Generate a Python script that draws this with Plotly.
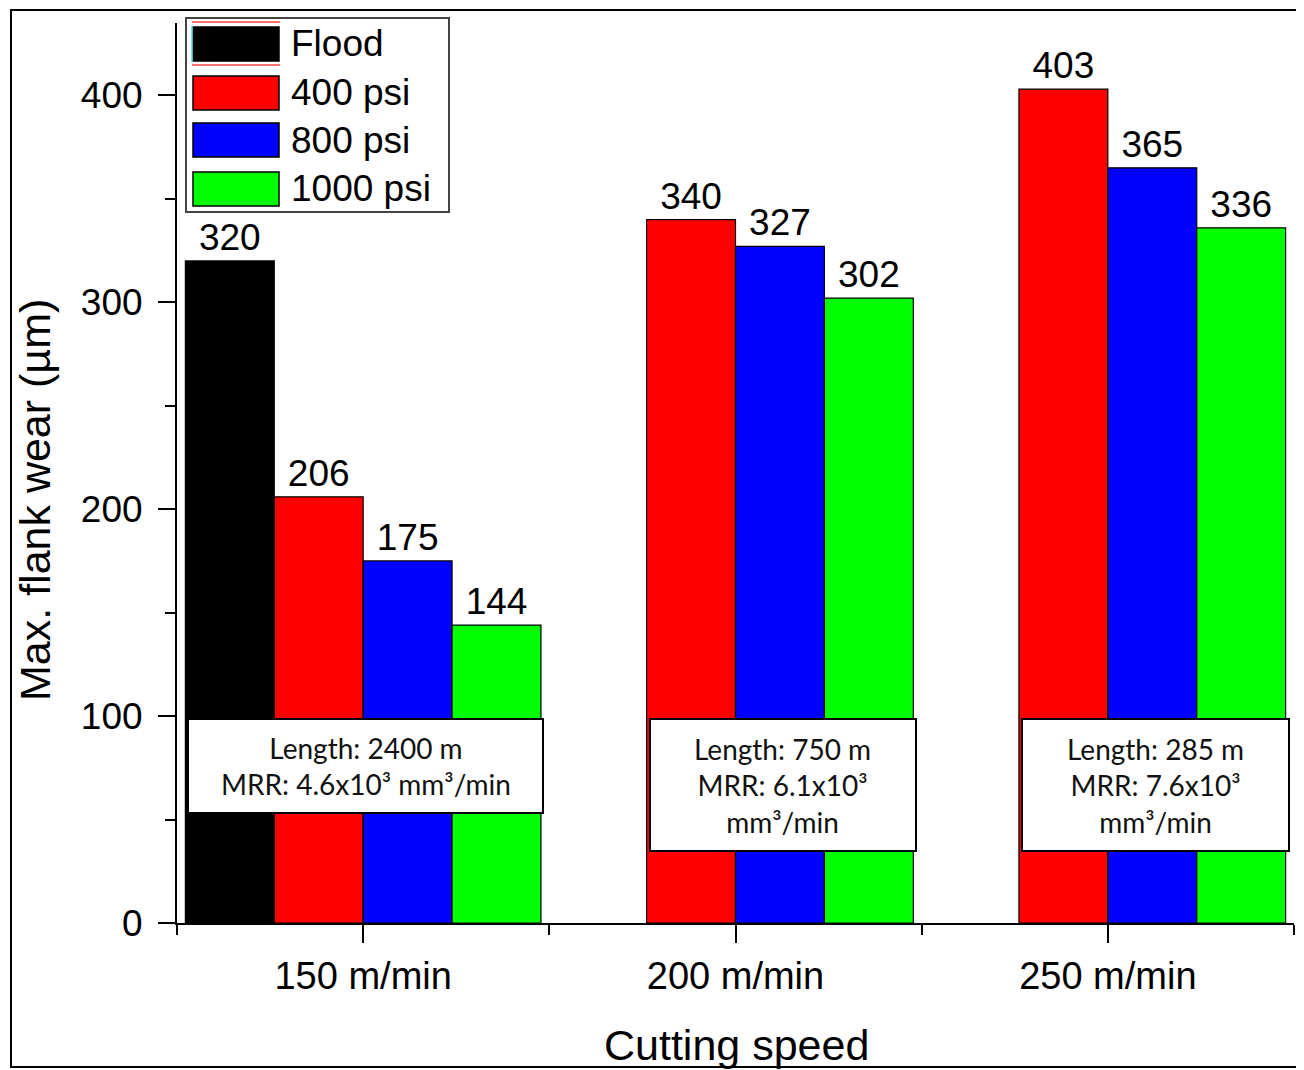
import plotly.graph_objects as go

# ---- data ----
speeds = [150, 200, 250]
speed_labels = ["150 m/min", "200 m/min", "250 m/min"]
series_names = ["Flood", "400 psi", "800 psi", "1000 psi"]
flood = [320, None, None]
psi400 = [206, 340, 403]
psi800 = [175, 327, 365]
psi1000 = [144, 302, 336]
series_values = [flood, psi400, psi800, psi1000]
series_colors = ["#000000", "#FF0000", "#0000FF", "#00FF00"]

box_texts = [
    "Length: 2400 m<br>MRR: 4.6x10³ mm³/min",
    "Length: 750 m<br>MRR: 6.1x10³<br>mm³/min",
    "Length: 285 m<br>MRR: 7.6x10³<br>mm³/min",
]

# ---- layout geometry (reference pixels; page has an 8px body margin) ----
OFF = 8
W, H = 1304 - OFF, 1070 - OFF
L, R, T, B = 177 - OFF, 1294 - OFF, 23 - OFF, 923 - OFF
PW, PH = R - L, B - T


def px(x):
    return (x - OFF - L) / PW


def py(y):
    return (B - (y - OFF)) / PH


FONT = "Liberation Sans, Arial, sans-serif"

fig = go.Figure()
for name, vals, col in zip(series_names, series_values, series_colors):
    fig.add_trace(go.Bar(
        x=speeds, y=vals, name=name,
        marker=dict(color=col, line=dict(color="black", width=1.2)),
        text=[("" if v is None else str(v)) for v in vals],
        textposition="outside",
        textfont=dict(size=37, color="black", family=FONT),
        cliponaxis=False,
        showlegend=False,
    ))

shapes = []
annotations = []

# outer frame
shapes.append(dict(type="rect", xref="paper", yref="paper",
                   x0=px(11), x1=px(1297), y0=py(1067), y1=py(10),
                   line=dict(color="black", width=2), fillcolor="rgba(0,0,0,0)", layer="below"))

# info boxes
box_px = [(188, 543, 719, 813), (650, 916, 719, 851), (1022, 1289, 719, 851)]
for (x0, x1, y0, y1), txt in zip(box_px, box_texts):
    shapes.append(dict(type="rect", xref="paper", yref="paper",
                       x0=px(x0), x1=px(x1), y0=py(y1), y1=py(y0),
                       line=dict(color="black", width=2), fillcolor="white", layer="above"))
    annotations.append(dict(xref="paper", yref="paper", x=px((x0 + x1) / 2), y=py((y0 + y1) / 2),
                            text=txt, showarrow=False, xanchor="center", yanchor="middle",
                            font=dict(family="Lato, Carlito, sans-serif", size=28, color="#111"),
                            align="center"))

# legend (manual, large swatches)
shapes.append(dict(type="rect", xref="paper", yref="paper",
                   x0=px(186), x1=px(449), y0=py(212), y1=py(18),
                   line=dict(color="#444", width=2), fillcolor="white", layer="above"))
sw_tops = [27, 76, 123, 172]
for name, col, top in zip(series_names, series_colors, sw_tops):
    shapes.append(dict(type="rect", xref="paper", yref="paper",
                       x0=px(193), x1=px(279), y0=py(top + 34), y1=py(top),
                       line=dict(color="black", width=1.5), fillcolor=col, layer="above"))
    annotations.append(dict(xref="paper", yref="paper", x=px(289), y=py(top + 17),
                            text=name, showarrow=False, xanchor="left", yanchor="middle",
                            font=dict(family=FONT, size=37, color="black")))
# Origin-style coloured outline artefact around the first swatch
shapes.append(dict(type="line", xref="paper", yref="paper", x0=px(192), x1=px(280), y0=py(22), y1=py(22),
                   line=dict(color="#FF4040", width=1.5), layer="above"))
shapes.append(dict(type="line", xref="paper", yref="paper", x0=px(192), x1=px(280), y0=py(65), y1=py(65),
                   line=dict(color="#FF4040", width=1.5), layer="above"))
shapes.append(dict(type="line", xref="paper", yref="paper", x0=px(192), x1=px(192), y0=py(62), y1=py(26),
                   line=dict(color="#40E0E0", width=1.5), layer="above"))

# axis titles
annotations.append(dict(xref="paper", yref="paper", x=px(736), y=py(1045),
                        text="Cutting speed", showarrow=False, xanchor="center", yanchor="middle",
                        font=dict(family=FONT, size=43, color="black")))
annotations.append(dict(xref="paper", yref="paper", x=px(35), y=py(500),
                        text="Max. flank wear (µm)", showarrow=False, xanchor="center", yanchor="middle",
                        textangle=-90, font=dict(family=FONT, size=43, color="black")))

fig.update_layout(
    width=W, height=H,
    margin=dict(l=L, r=W - R, t=T, b=H - B, autoexpand=False),
    paper_bgcolor="white", plot_bgcolor="white",
    barmode="group", bargap=0.045, bargroupgap=0,
    shapes=shapes, annotations=annotations,
    font=dict(family=FONT, color="black"),
)
fig.update_xaxes(
    range=[125, 275], tickvals=speeds, ticktext=speed_labels,
    showline=True, linecolor="black", linewidth=2,
    ticks="outside", ticklen=18, tickwidth=2, tickcolor="black",
    minor=dict(tickvals=[125, 175, 225, 275], ticks="outside", ticklen=10, tickwidth=2, tickcolor="black"),
    tickfont=dict(size=38, family=FONT, color="black"),
    showgrid=False, zeroline=False,
)
fig.update_yaxes(
    range=[0, 435], tickvals=[0, 100, 200, 300, 400],
    showline=True, linecolor="black", linewidth=2,
    ticks="outside", ticklen=17, tickwidth=2, tickcolor="black",
    minor=dict(tickvals=[50, 150, 250, 350], ticks="outside", ticklen=10, tickwidth=2, tickcolor="black"),
    tickfont=dict(size=37, family=FONT, color="black"),
    ticklabelstandoff=8,
    showgrid=False, zeroline=False,
)

fig.write_html("out.html")
